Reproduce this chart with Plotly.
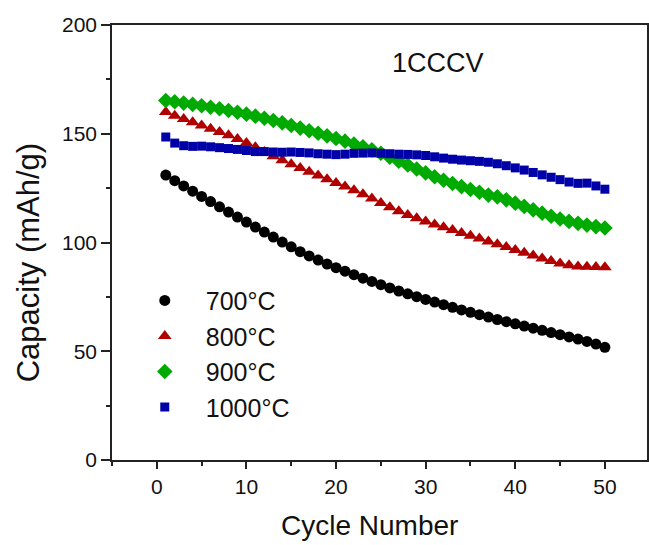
import plotly.graph_objects as go

cycles = list(range(1, 51))

cap_700 = [131.0, 128.4, 126.0, 123.6, 121.2, 118.8, 116.4, 114.0, 111.7, 109.4,
           107.1, 104.8, 102.5, 100.2, 98.0, 95.8, 93.8, 91.9, 90.1, 88.4,
           86.8, 85.2, 83.6, 82.1, 80.6, 79.1, 77.7, 76.4, 75.1, 73.8,
           72.6, 71.4, 70.2, 69.0, 67.9, 66.8, 65.7, 64.6, 63.6, 62.6,
           61.6, 60.6, 59.6, 58.6, 57.6, 56.6, 55.6, 54.5, 53.3, 51.8]

cap_800 = [160.0, 158.3, 156.8, 155.3, 153.8, 152.3, 150.8, 149.3, 147.6, 145.8,
           143.8, 141.6, 139.6, 137.8, 136.0, 134.2, 132.5, 130.8, 129.1, 127.4,
           125.7, 124.0, 122.2, 120.2, 118.2, 116.2, 114.4, 112.7, 111.1, 109.7,
           108.3, 107.0, 105.7, 104.4, 103.1, 101.8, 100.5, 99.2, 97.9, 96.6,
           95.3, 94.0, 92.7, 91.5, 90.4, 89.5, 89.0, 88.8, 88.7, 88.6]

cap_900 = [165.3, 164.7, 164.1, 163.5, 162.9, 162.2, 161.5, 160.7, 159.9, 159.0,
           158.1, 157.1, 156.1, 155.0, 153.8, 152.6, 151.4, 150.2, 149.0, 147.8,
           146.6, 145.3, 144.0, 142.6, 141.0, 139.2, 137.4, 135.6, 133.8, 132.0,
           130.2, 128.6, 127.1, 125.7, 124.4, 123.1, 121.8, 121.0, 119.6, 118.1,
           116.6, 115.0, 113.5, 112.1, 110.8, 109.7, 108.8, 108.0, 107.3, 106.7]

cap_1000 = [148.5, 145.7, 144.5, 144.2, 144.3, 144.0, 143.6, 143.2, 142.8, 142.3,
            141.8, 141.8, 141.6, 141.5, 141.6, 141.4, 141.2, 140.8, 140.6, 140.4,
            140.6, 141.0, 141.1, 141.2, 141.0, 140.8, 140.6, 140.5, 140.3, 140.0,
            139.4, 138.8, 138.3, 137.9, 137.6, 137.3, 136.9, 136.2, 135.3, 134.3,
            133.3, 132.2, 131.1, 130.0, 128.9, 127.8, 127.2, 127.3, 126.0, 124.5]

series_names = ["700°C", "800°C", "900°C", "1000°C"]
x_ticks = [0, 10, 20, 30, 40, 50]
y_ticks = [0, 50, 100, 150, 200]

styles = [
    dict(symbol="circle", color="#000000", size=11),
    dict(symbol="triangle-up", color="#b00000", size=12),
    dict(symbol="diamond", color="#00aa00", size=12),
    dict(symbol="square", color="#0000a8", size=9),
]

fig = go.Figure()
for name, vals, st in zip(series_names, [cap_700, cap_800, cap_900, cap_1000], styles):
    fig.add_trace(go.Scatter(
        x=cycles, y=vals, name=name, mode="markers",
        marker=dict(symbol=st["symbol"], color=st["color"], size=st["size"],
                    line=dict(width=0)),
    ))

font_family = "Liberation Sans, Arial, sans-serif"

fig.update_layout(
    width=649, height=545,
    margin=dict(l=112, r=0, t=25, b=85),
    paper_bgcolor="white", plot_bgcolor="white",
    font=dict(family=font_family, color="#111111"),
    showlegend=True,
    legend=dict(
        x=0.022, y=0.419, xanchor="left", yanchor="top",
        font=dict(size=25, family=font_family, color="#111111"),
        bgcolor="rgba(0,0,0,0)", itemsizing="trace", tracegroupgap=0,
        itemwidth=72,
    ),
    xaxis=dict(
        range=[-5, 54.7], tickvals=x_ticks, ticks="outside", ticklen=7,
        tickwidth=1.5, tickcolor="#222222",
        showline=True, linecolor="#222222", linewidth=1.5, mirror=True,
        showgrid=False, zeroline=False,
        tickfont=dict(size=21, family=font_family, color="#111111"),
        minor=dict(tickvals=[-5, 5, 15, 25, 35, 45], ticks="outside",
                   ticklen=4, tickwidth=1.5, tickcolor="#222222"),
    ),
    yaxis=dict(
        range=[0, 200], tickvals=y_ticks, ticks="outside", ticklen=9,
        tickwidth=1.5, tickcolor="#222222",
        showline=True, linecolor="#222222", linewidth=1.5, mirror=True,
        showgrid=False, zeroline=False,
        tickfont=dict(size=21, family=font_family, color="#111111"),
        minor=dict(tickvals=[25, 75, 125, 175], ticks="outside",
                   ticklen=4, tickwidth=1.5, tickcolor="#222222"),
    ),
    annotations=[
        dict(text="1CCCV", x=31.4, y=182.5, xref="x", yref="y",
             showarrow=False,
             font=dict(size=27, family=font_family, color="#111111")),
        # axis titles
        dict(text="Cycle Number", x=(370 - 112) / 537, y=-65 / 435,
             xref="paper", yref="paper", xanchor="center", yanchor="middle",
             showarrow=False,
             font=dict(size=28, family=font_family, color="#111111")),
        dict(text="Capacity (mAh/g)", x=-84 / 537, y=(460 - 263) / 435,
             xref="paper", yref="paper", xanchor="center", yanchor="middle",
             textangle=-90, showarrow=False,
             font=dict(size=31, family=font_family, color="#111111")),
    ],
)

fig.write_html("out.html")
